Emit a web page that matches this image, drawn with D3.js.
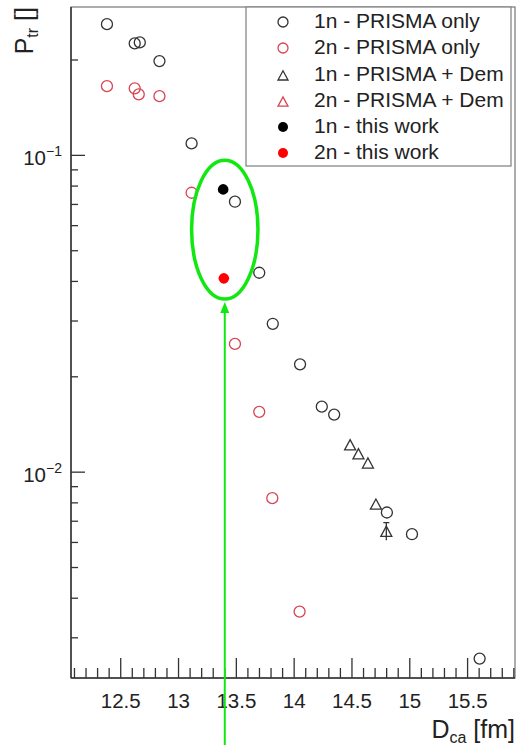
<!DOCTYPE html>
<html>
<head>
<meta charset="utf-8">
<script src="https://cdn.jsdelivr.net/npm/d3@7"></script>
<style>
  html, body { margin: 0; padding: 0; background: #fff; }
  svg { display: block; font-family: "Liberation Sans", Arial, Helvetica, sans-serif; }
</style>
</head>
<body>
<svg id="chart" width="518" height="745"></svg>
<script>
// Transfer probability vs distance of closest approach
const oneN_prismaD = [12.381, 12.621, 12.665, 12.835, 13.113, 13.488, 13.698, 13.815, 14.051, 14.239, 14.346, 14.802, 15.019, 15.604];
const oneN_prismaP = [0.2595, 0.2256, 0.2273, 0.1984, 0.1091, 0.0714, 0.0426, 0.0294, 0.0219, 0.0161, 0.0152, 0.00746, 0.00637, 0.00258];

const twoN_prismaD = [12.381, 12.621, 12.656, 12.835, 13.113, 13.488, 13.698, 13.811, 14.047];
const twoN_prismaP = [0.1654, 0.1627, 0.1558, 0.1538, 0.0762, 0.0254, 0.0155, 0.00828, 0.00363];

const oneN_demD = [14.484, 14.556, 14.638, 14.707, 14.797];
const oneN_demP = [0.01219, 0.01142, 0.01068, 0.00792, 0.0065];
const oneN_demErrLow = [0, 0, 0, 0, 0.0061];
const oneN_demErrHigh = [0, 0, 0, 0, 0.00693];

const oneN_thisD = [13.386];
const oneN_thisP = [0.0781];
const twoN_thisD = [13.392];
const twoN_thisP = [0.0409];

const legendLabels = ["1n - PRISMA only", "2n - PRISMA only", "1n - PRISMA + Dem", "2n - PRISMA + Dem", "1n - this work", "2n - this work"];

const xMajorTicks = [12.5, 13, 13.5, 14, 14.5, 15, 15.5];
const xTickLabels = ["12.5", "13", "13.5", "14", "14.5", "15", "15.5"];
const yMajorTicks = [0.1, 0.01];
const yTickExponents = ["\u22121", "\u22122"];

// Highlight around the new measurement
const markX = 13.40, markHalfWidth = 0.287, markTop = 0.0966, markBottom = 0.0352;

const BLACK = "#333", RED = "#d84452", FILLRED = "#ff0000", GREEN = "#11e811";

const svg = d3.select("#chart");
const pLeft = 71, pRight = 515, pTop = 7, pBottom = 678;

const x = d3.scaleLinear().domain([12.07, 15.91]).range([pLeft, pRight]);
const y = d3.scaleLog().domain([0.294, 0.00224]).range([pTop, pBottom]);

// frame
svg.append("rect").attr("x", pLeft).attr("y", pTop).attr("width", pRight - pLeft).attr("height", pBottom - pTop)
  .attr("fill", "none").attr("stroke", "#777").attr("stroke-width", 1.2);

// x axis ticks (inside)
const xMinor = d3.range(121, 160).map(v => v / 10).filter(v => !xMajorTicks.some(m => Math.abs(m - v) < 1e-6));
const gx = svg.append("g").attr("stroke", "#333").attr("stroke-width", 1.3);
xMinor.forEach(v => gx.append("line").attr("x1", x(v)).attr("x2", x(v)).attr("y1", pBottom).attr("y2", pBottom - 10));
xMajorTicks.forEach(v => gx.append("line").attr("x1", x(v)).attr("x2", x(v)).attr("y1", pBottom).attr("y2", pBottom - 20));
svg.append("line").attr("x1", pLeft).attr("x2", pRight).attr("y1", pBottom).attr("y2", pBottom)
  .attr("stroke", "#333").attr("stroke-width", 1.5);

svg.append("g").selectAll("text").data(xMajorTicks).join("text")
  .attr("x", d => x(d)).attr("y", 708).attr("text-anchor", "middle")
  .attr("font-size", 20.5).attr("fill", "#222").text((d, i) => xTickLabels[i]);

// y axis ticks (inside)
const yMinor = [];
[0.001, 0.01, 0.1].forEach(dec => { for (let k = 2; k <= 9; k++) yMinor.push(dec * k); });
const [yLo, yHi] = y.domain().slice().sort((a, b) => a - b);
const gy = svg.append("g").attr("stroke", "#333").attr("stroke-width", 1.3);
yMinor.filter(v => v >= yLo && v <= yHi).forEach(v =>
  gy.append("line").attr("x1", pLeft).attr("x2", pLeft + 7).attr("y1", y(v)).attr("y2", y(v)));
yMajorTicks.forEach(v =>
  gy.append("line").attr("x1", pLeft).attr("x2", pLeft + 14).attr("y1", y(v)).attr("y2", y(v)));
svg.append("line").attr("x1", pLeft).attr("x2", pLeft).attr("y1", pTop).attr("y2", pBottom)
  .attr("stroke", "#333").attr("stroke-width", 1.5);

yMajorTicks.forEach((v, i) => {
  const t = svg.append("text").attr("x", 62).attr("y", y(v) + 10).attr("text-anchor", "end")
    .attr("font-size", 20.5).attr("fill", "#222");
  t.append("tspan").text("10");
  t.append("tspan").attr("dy", -9).attr("font-size", 14).text(yTickExponents[i]);
});

// axis titles
const xt = svg.append("text").attr("x", pRight).attr("y", 738).attr("text-anchor", "end")
  .attr("font-size", 25).attr("fill", "#222");
xt.append("tspan").text("D");
xt.append("tspan").attr("font-size", 16).attr("dy", 5).text("ca");
xt.append("tspan").attr("dy", -5).text(" [fm]");

const yt = svg.append("text").attr("transform", "translate(33,7) rotate(-90)").attr("text-anchor", "end")
  .attr("font-size", 25).attr("fill", "#222");
yt.append("tspan").text("P");
yt.append("tspan").attr("font-size", 16).attr("dy", 5).text("tr");
yt.append("tspan").attr("dy", -5).text(" []");

// markers
const tri = (cx, cy, s) => `M${cx - s},${cy + s * 0.9}L${cx + s},${cy + s * 0.9}L${cx},${cy - s * 0.95}Z`;

function hollowCircles(ds, ps, color) {
  svg.append("g").selectAll("circle").data(ds).join("circle")
    .attr("cx", d => x(d)).attr("cy", (d, i) => y(ps[i])).attr("r", 5.5)
    .attr("fill", "none").attr("stroke", color).attr("stroke-width", 1.3);
}
hollowCircles(oneN_prismaD, oneN_prismaP, BLACK);
hollowCircles(twoN_prismaD, twoN_prismaP, RED);

// error bars on the Dem points
const ge = svg.append("g").attr("stroke", BLACK).attr("stroke-width", 1.3);
oneN_demD.forEach((d, i) => {
  if (oneN_demErrHigh[i] > 0) {
    ge.append("line").attr("x1", x(d)).attr("x2", x(d)).attr("y1", y(oneN_demErrLow[i])).attr("y2", y(oneN_demErrHigh[i]));
    ge.append("line").attr("x1", x(d) - 3).attr("x2", x(d) + 3).attr("y1", y(oneN_demErrHigh[i])).attr("y2", y(oneN_demErrHigh[i]));
  }
});
svg.append("g").selectAll("path").data(oneN_demD).join("path")
  .attr("d", (d, i) => tri(x(d), y(oneN_demP[i]), 5.5))
  .attr("fill", "none").attr("stroke", BLACK).attr("stroke-width", 1.3);

svg.append("g").selectAll("circle").data(oneN_thisD).join("circle")
  .attr("cx", d => x(d)).attr("cy", (d, i) => y(oneN_thisP[i])).attr("r", 5.3).attr("fill", "#000");
svg.append("g").selectAll("circle").data(twoN_thisD).join("circle")
  .attr("cx", d => x(d)).attr("cy", (d, i) => y(twoN_thisP[i])).attr("r", 5.3).attr("fill", FILLRED);

// legend
svg.append("rect").attr("x", 246).attr("y", 7).attr("width", 265).attr("height", 159)
  .attr("fill", "#fff").attr("stroke", "#888").attr("stroke-width", 1.3);
const rowBase = [28, 54, 80.5, 106.7, 133, 159];
const lg = svg.append("g");
legendLabels.forEach((lab, i) => {
  lg.append("text").attr("x", 314).attr("y", rowBase[i]).attr("font-size", 21).attr("fill", "#222").text(lab);
  const cy = rowBase[i] - 6;
  const mx = 283;
  if (i < 2) {
    lg.append("circle").attr("cx", mx).attr("cy", cy).attr("r", 5).attr("fill", "none")
      .attr("stroke", i === 0 ? BLACK : RED).attr("stroke-width", 1.3);
  } else if (i < 4) {
    lg.append("path").attr("d", tri(mx, cy + 1, 5)).attr("fill", "none")
      .attr("stroke", i === 2 ? BLACK : RED).attr("stroke-width", 1.3);
  } else {
    lg.append("circle").attr("cx", mx).attr("cy", cy).attr("r", 5).attr("fill", i === 4 ? "#000" : FILLRED);
  }
});

// highlight ellipse and arrow
const ecx = x(markX), ecyTop = y(markTop), ecyBot = y(markBottom);
svg.append("ellipse").attr("cx", ecx).attr("cy", (ecyTop + ecyBot) / 2)
  .attr("rx", x(markX + markHalfWidth) - ecx).attr("ry", (ecyBot - ecyTop) / 2)
  .attr("fill", "none").attr("stroke", GREEN).attr("stroke-width", 3.5);
const tipY = ecyBot + 3;
svg.append("line").attr("x1", ecx).attr("x2", ecx).attr("y1", tipY + 8).attr("y2", 745)
  .attr("stroke", GREEN).attr("stroke-width", 2);
svg.append("path").attr("d", `M${ecx},${tipY}L${ecx - 4.5},${tipY + 11}L${ecx + 4.5},${tipY + 11}Z`).attr("fill", GREEN);
</script>
</body>
</html>
